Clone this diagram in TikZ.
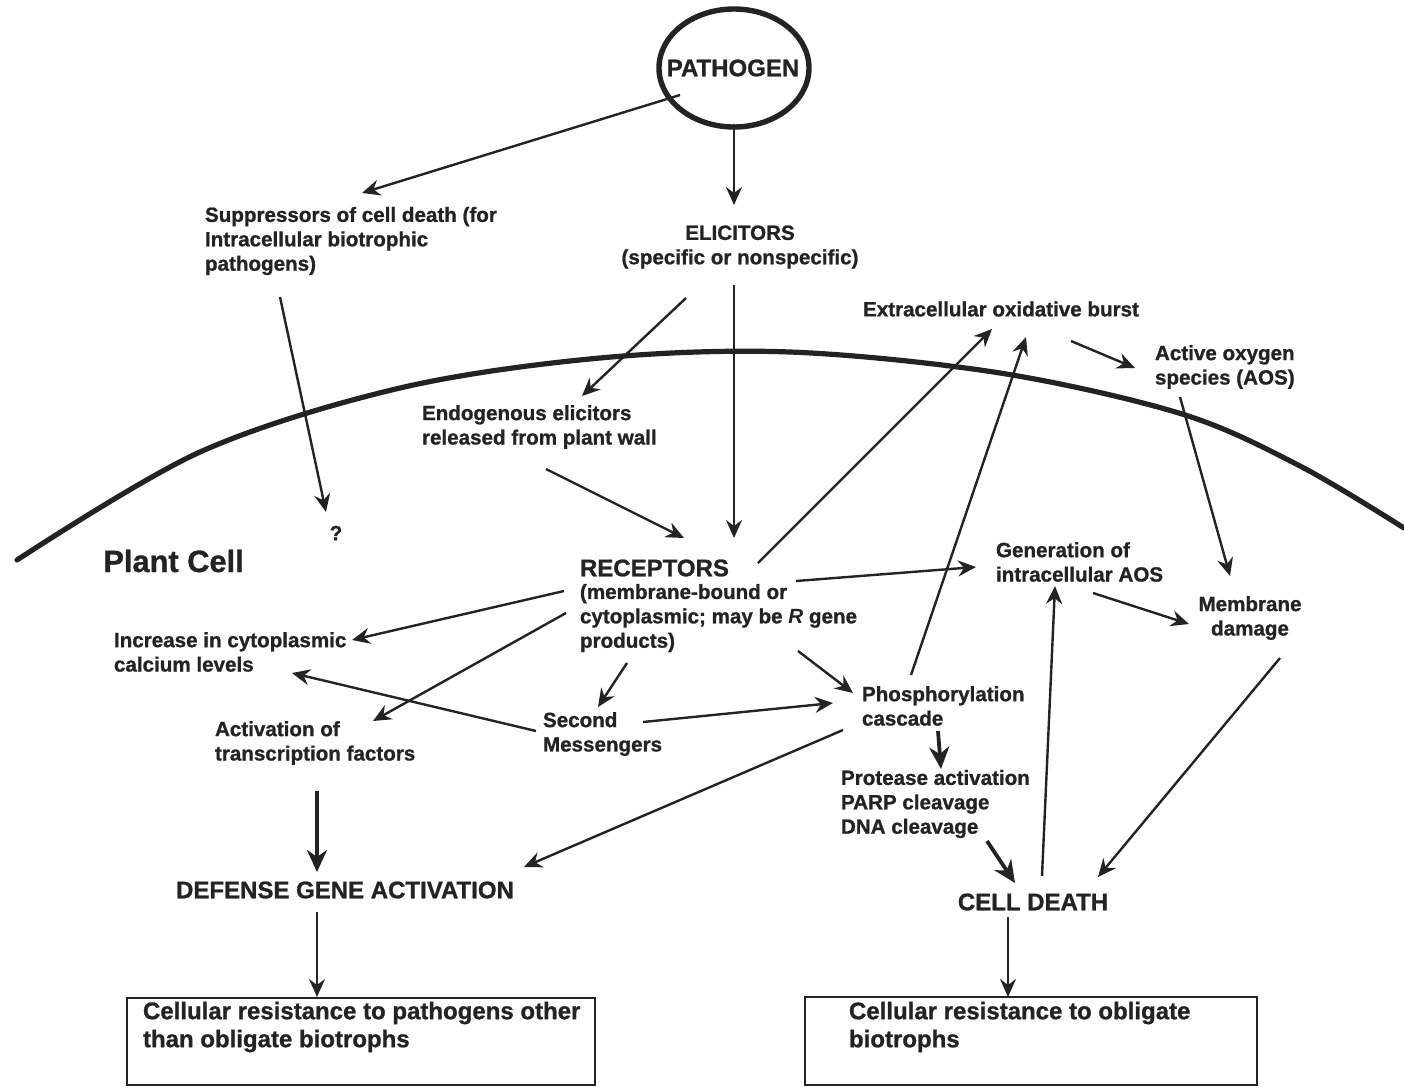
\documentclass[tikz,border=0pt]{standalone}
\usepackage{fontspec}
\setmainfont{Liberation Sans}[BoldFeatures={FakeBold=1}]
\usetikzlibrary{arrows.meta,shapes.geometric}
\definecolor{ink}{RGB}{35,35,35}
\tikzset{
  txt/.style={font=\bfseries\fontsize{10.3}{12.2}\selectfont, inner sep=0pt, outer sep=0pt, align=left, text=ink},
  big/.style={font=\bfseries\fontsize{12}{14}\selectfont, inner sep=0pt, outer sep=0pt, text=ink},
  boxtxt/.style={font=\bfseries\fontsize{12}{14}\selectfont, inner sep=0pt, outer sep=0pt, align=left, text=ink},
  boxst/.style={draw=ink, line width=1pt, outer sep=0pt, inner sep=0pt, rectangle},
  arr/.style={draw=ink, line width=1.2pt, -{Stealth[length=9pt,width=8pt,inset=3pt]}},
  tarr/.style={draw=ink, line width=1.9pt, -{Stealth[length=11pt,width=10pt,inset=3.5pt]}},
  membrane/.style={draw=ink, line width=2.6pt, line cap=round},
}
\begin{document}
\begin{tikzpicture}[x=0.5pt,y=-0.5pt]
\useasboundingbox[fill=white] (0,0) rectangle (1404,1087);

% cell membrane
\draw[membrane] plot[smooth, tension=0.55] coordinates {(17,560) (200,452) (400,388) (600,358) (790,352) (1000,373) (1182,414) (1300,466) (1404,528)};

% nodes
\node[draw=ink, line width=2.7pt, ellipse, minimum width=75pt, minimum height=59pt, inner sep=0pt] (patho) at (734,68) {};
\node[font=\bfseries\fontsize{12}{14}\selectfont, text=ink, inner sep=0pt] (pathotxt) at (733,68) {PATHOGEN};
\node[txt, anchor=west] (supp) at (205,241) {Suppressors of cell death (for\\Intracellular biotrophic\\pathogens)};
\node[txt, align=center] (elic) at (740,247) {ELICITORS\\(specific or nonspecific)};
\node[txt] (ext) at (1001,309) {Extracellular oxidative burst};
\node[txt, anchor=west] (aos) at (1155,367) {Active oxygen\\species (AOS)};
\node[txt, anchor=west] (endo) at (422,427) {Endogenous elicitors\\released from plant wall};
\node[txt] (quest) at (336,533) {?};
\node[font=\bfseries\fontsize{15.4}{18}\selectfont, text=ink, inner sep=0pt, anchor=west] (plant) at (103,561) {Plant Cell};
\node[big, anchor=west] (rec) at (580,568) {RECEPTORS};
\node[txt, anchor=west] (recsub) at (580,618) {(membrane-bound or\\cytoplasmic; may be \textit{R} gene\\products)};
\node[txt, anchor=west] (genaos) at (996,562) {Generation of\\intracellular AOS};
\node[txt, align=center] (memb) at (1250,618) {Membrane\\damage};
\node[txt, anchor=west] (calc) at (114,652) {Increase in cytoplasmic\\calcium levels};
\node[txt, anchor=west] (second) at (543,734) {Second\\Messengers};
\node[txt, anchor=west] (phos) at (862,706) {Phosphorylation\\cascade};
\node[txt, anchor=west] (actf) at (215,743) {Activation of\\transcription factors};
\node[txt, anchor=west] (prot) at (841,804) {Protease activation\\PARP cleavage\\DNA cleavage};
\node[big] (defense) at (345,890) {DEFENSE GENE ACTIVATION};
\node[big] (death) at (1033,902) {CELL DEATH};
\node[boxst, anchor=north west, minimum width=234pt, minimum height=43.5pt] (box1) at (127,998) {};
\node[boxtxt, anchor=west] (box1t) at (143,1027) {Cellular resistance to pathogens other\\than obligate biotrophs};
\node[boxst, anchor=north west, minimum width=226pt, minimum height=44pt] (box2) at (805,997) {};
\node[boxtxt, anchor=west] (box2t) at (849,1027) {Cellular resistance to obligate\\biotrophs};

% connectors
\draw[arr] ([shift={(-54,27)}]patho.center) -- ([shift={(157,-48)}]supp.west);
\draw[arr] ([shift={(0,56)}]patho.center) -- ([shift={(-6,-42)}]elic.center);
\draw[arr] ([shift={(-6,38)}]elic.center) -- ([shift={(154,-30)}]rec.west);
\draw[arr] ([shift={(-54,51)}]elic.center) -- ([shift={(160,-31)}]endo.west);
\draw[arr] ([shift={(75,56)}]supp.west) -- ([shift={(-10,-21)}]quest.center);
\draw[arr] ([shift={(124,42)}]endo.west) -- ([shift={(104,-30)}]rec.west);
\draw[arr] ([shift={(178,-5)}]rec.west) -- ([shift={(-9,20)}]ext.center);
\draw[arr] ([shift={(49,-31)}]phos.west) -- ([shift={(25,28)}]ext.center);
\draw[arr] ([shift={(70,32)}]ext.center) -- ([shift={(-20,1)}]aos.west);
\draw[arr] ([shift={(25,30)}]aos.west) -- ([shift={(-20,-42)}]memb.center);
\draw[arr] ([shift={(216,13)}]rec.west) -- ([shift={(-20,5)}]genaos.west);
\draw[arr] ([shift={(97,31)}]genaos.west) -- ([shift={(-61,6)}]memb.center);
\draw[arr] ([shift={(30,40)}]memb.center) -- ([shift={(65,-25)}]death.center);
\draw[arr] ([shift={(-16,-27)}]recsub.west) -- ([shift={(238,-12)}]calc.west);
\draw[arr] ([shift={(-14,-5)}]recsub.west) -- ([shift={(158,-22)}]actf.west);
\draw[arr] ([shift={(-7,-3)}]second.west) -- ([shift={(178,21)}]calc.west);
\draw[arr] ([shift={(47,45)}]recsub.west) -- ([shift={(55,-27)}]second.west);
\draw[arr] ([shift={(100,-12)}]second.west) -- ([shift={(-29,-3)}]phos.west);
\draw[arr] ([shift={(218,33)}]recsub.west) -- ([shift={(-9,-13)}]phos.west);
\draw[tarr] ([shift={(102,48)}]actf.west) -- ([shift={(-28,-18)}]defense.center);
\draw[arr] ([shift={(-19,24)}]phos.west) -- ([shift={(179,-23)}]defense.center);
\draw[tarr] ([shift={(76,25)}]phos.west) -- ([shift={(100,-35)}]prot.west);
\draw[tarr] ([shift={(146,37)}]prot.west) -- ([shift={(-18,-19)}]death.center);
\draw[arr] ([shift={(9,-26)}]death.center) -- ([shift={(59,24)}]genaos.west);
\draw[arr] ([shift={(-28,22)}]defense.center) -- ([shift={(190,-1)}]box1.north west);
\draw[arr] ([shift={(-25,15)}]death.center) -- ([shift={(203,0)}]box2.north west);
\end{tikzpicture}
\end{document}
